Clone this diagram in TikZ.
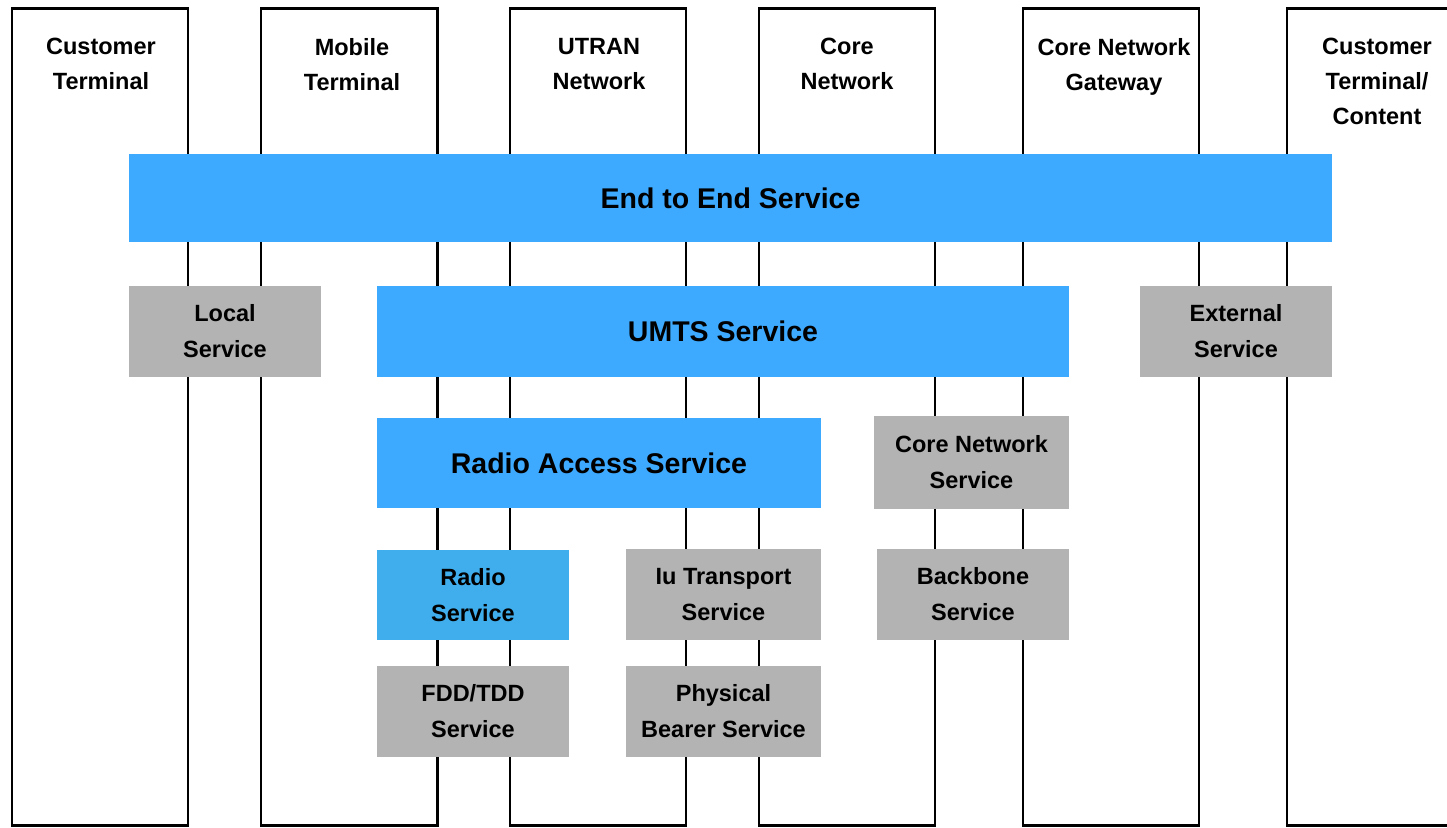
\documentclass[tikz,border=0pt]{standalone}
\usepackage{fontspec}
\setmainfont{Liberation Sans}
\definecolor{azul}{RGB}{61,170,255}
\definecolor{azulradio}{RGB}{64,174,236}
\definecolor{gris}{RGB}{179,179,179}

\begin{document}
\begin{tikzpicture}[
            x=1pt,
            y=-1pt,
            every node/.style={
                inner sep=0pt,
                align=center
            },
            columna/.style={
                draw=black,
                line width=2.6pt
            },
            titulo/.style={
                anchor=north,
                font=\bfseries\fontsize{23.5}{35}\selectfont
            },
            caja/.style={
                fill=gris,
                minimum width=192pt,
                minimum height=91pt,
                font=\bfseries\fontsize{23.5}{36}\selectfont
            },
            banda/.style={
                fill=azul,
                minimum height=90pt,
                font=\bfseries\fontsize{28.5}{34}\selectfont
            }
        ]

        \path[use as bounding box, clip] (0,0) rectangle (1447,827);

        % Columnas
        \draw[columna] (12,8.5)   rectangle (188,825.5);
        \draw[columna] (261,8.5)  rectangle (437.5,825.5);
        \draw[columna] (510,8.5)  rectangle (686,825.5);
        \draw[columna] (759,8.5)  rectangle (935,825.5);
        \draw[columna] (1023,8.5) rectangle (1199,825.5);
        \draw[columna] (1287,8.5) rectangle (1467,825.5);

        % Títulos
        \node[titulo] (ct)  at (101,38)    {Customer\\Terminal};
        \node[titulo] (mt)  at (352,38)    {Mobile\\Terminal};
        \node[titulo] (ut)  at (599,38)    {UTRAN\\Network};
        \node[titulo] (cn)  at (847,38)    {Core\\Network};
        \node[titulo] (gw)  at (1114,38)   {Core Network\\Gateway};
        \node[titulo] (cc)  at (1377,38)   {Customer\\Terminal/\\Content};

        % Servicios
        \node[banda, minimum width=1203pt, minimum height=88pt] (e2e) at (730.5,198) {End to End Service};
        \node[caja] (local) at (225,331.5) {Local\\Service};
        \node[banda, minimum width=692pt, minimum height=91pt] (umts) at (723,331.5) {UMTS Service};
        \node[caja] (ext) at (1236,331.5) {External\\Service};
        \node[banda, minimum width=444pt] (ras) at (599,463) {Radio Access Service};
        \node[caja, minimum width=195pt, minimum height=93pt] (cns) at (971.5,462.5) {Core Network\\Service};
        \node[caja, fill=azulradio, minimum height=90pt] (radio) at (473,595) {Radio\\Service};
        \node[caja, minimum width=195pt] (iu) at (723.5,594.5) {Iu Transport\\Service};
        \node[caja] (bb) at (973,594.5) {Backbone\\Service};
        \node[caja] (fdd) at (473,711.5) {FDD/TDD\\Service};
        \node[caja, minimum width=195pt] (phys) at (723.5,711.5) {Physical\\Bearer Service};

        \end{tikzpicture}
\end{document}
